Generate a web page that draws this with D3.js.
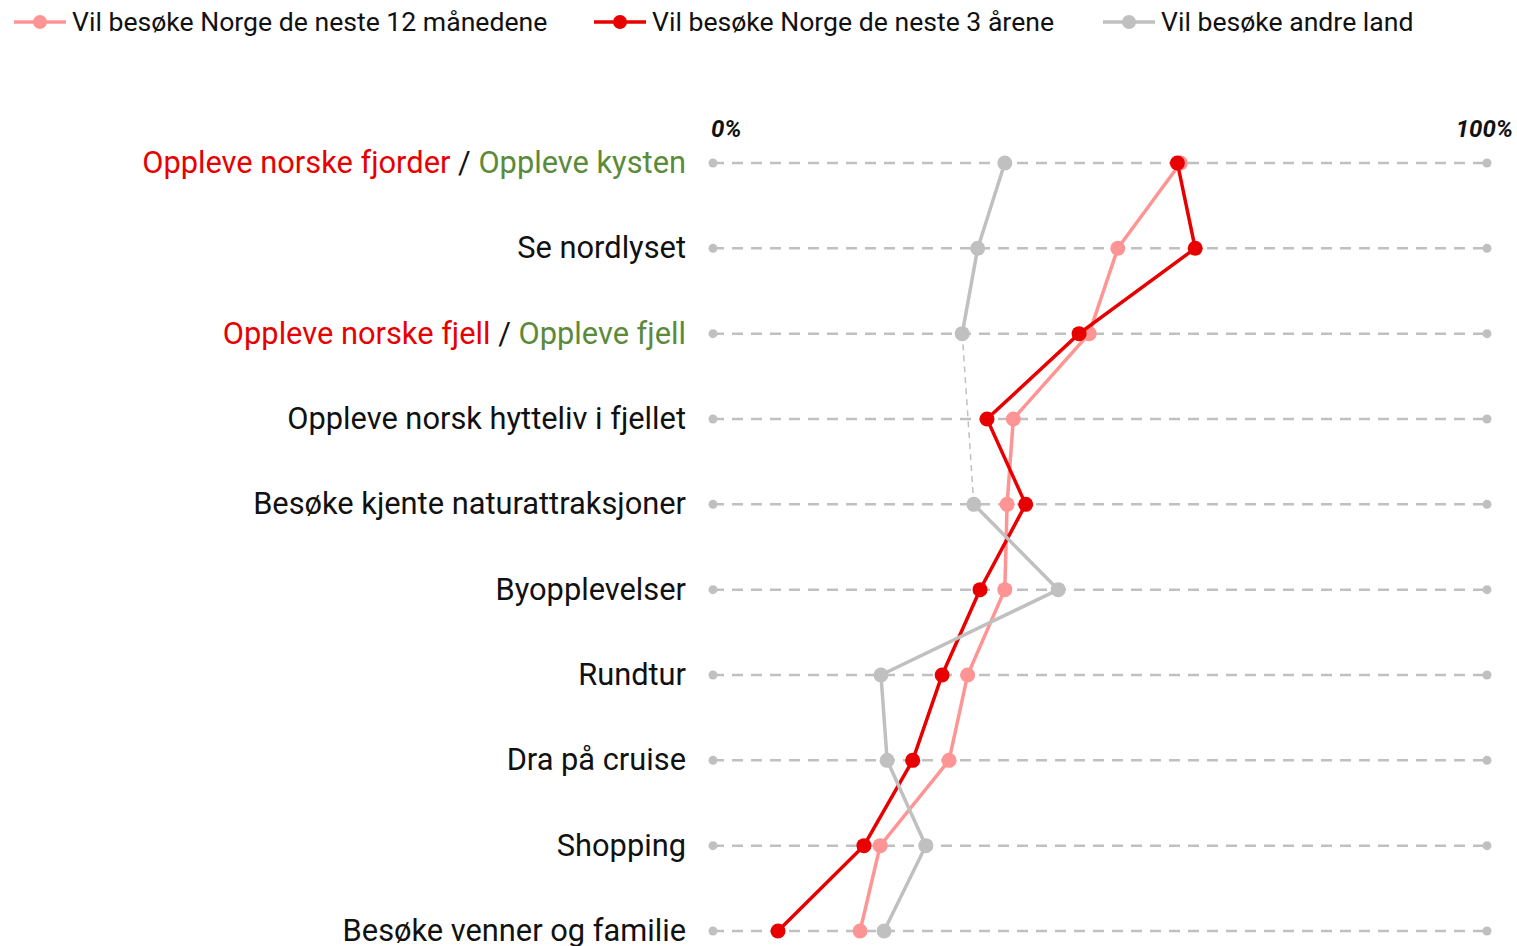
<!DOCTYPE html>
<html><head><meta charset="utf-8">
<script src="https://cdn.jsdelivr.net/npm/d3@7"></script>
<style>body{margin:0;background:#fff;font-family:Roboto,"Noto Sans",sans-serif;}</style>
</head><body><svg id="c" width="1517" height="946"></svg>
<script>
const categories = [
  "Oppleve norske fjorder / Oppleve kysten",
  "Se nordlyset",
  "Oppleve norske fjell / Oppleve fjell",
  "Oppleve norsk hytteliv i fjellet",
  "Besøke kjente naturattraksjoner",
  "Byopplevelser",
  "Rundtur",
  "Dra på cruise",
  "Shopping",
  "Besøke venner og familie"
];
const next12 = [60.4, 52.3, 48.6, 38.8, 38.0, 37.7, 32.9, 30.5, 21.6, 19.0];
const next3y = [60.0, 62.3, 47.3, 35.4, 40.4, 34.5, 29.6, 25.8, 19.5, 8.4];
const otherCountries = [37.7, 34.2, 32.2, null, 33.7, 44.6, 21.7, 22.5, 27.5, 22.1];
const seriesNames = ["Vil besøke Norge de neste 12 månedene", "Vil besøke Norge de neste 3 årene", "Vil besøke andre land"];
const tickLabels = ["0%", "100%"];

const RED = "#e80000", PINK = "#ff9494", GRAY = "#c0c0c0", GREEN = "#5a8a3a";
const svg = d3.select("#c");
const x = d3.scaleLinear().domain([0, 100]).range([713, 1487]);
const y = d3.scalePoint().domain(categories).range([163, 931]);

// gridlines
const g = svg.append("g");
categories.forEach(c => {
  g.append("line").attr("x1", x(0)).attr("x2", x(100)).attr("y1", y(c)).attr("y2", y(c))
    .attr("stroke", GRAY).attr("stroke-width", 2.5).attr("stroke-dasharray", "11,8");
  [0, 100].forEach(v => g.append("circle").attr("cx", x(v)).attr("cy", y(c)).attr("r", 4.5).attr("fill", GRAY));
});

// tick labels
svg.append("text").attr("x", x(0) - 2).attr("y", 137).text(tickLabels[0])
  .attr("font-size", 24).attr("font-style", "italic").attr("font-weight", 700).attr("fill", "#111");
svg.append("text").attr("x", x(100) + 26).attr("y", 137).attr("text-anchor", "end").text(tickLabels[1])
  .attr("font-size", 24).attr("font-style", "italic").attr("font-weight", 700).attr("fill", "#111");

// category labels
const colored = {
  "Oppleve norske fjorder / Oppleve kysten": ["Oppleve norske fjorder", "Oppleve kysten"],
  "Oppleve norske fjell / Oppleve fjell": ["Oppleve norske fjell", "Oppleve fjell"]
};
categories.forEach(c => {
  const t = svg.append("text").attr("x", 686).attr("y", y(c) + 10).attr("text-anchor", "end")
    .attr("font-size", 30.8).attr("fill", "#111");
  if (colored[c]) {
    t.append("tspan").attr("fill", RED).text(colored[c][0]);
    t.append("tspan").attr("fill", "#111").text(" / ");
    t.append("tspan").attr("fill", GREEN).text(colored[c][1]);
  } else t.text(c);
});

function drawSeries(vals, color, r) {
  const pts = vals.map((v, i) => ({v, c: categories[i]}));
  const line = d3.line().defined(d => d.v !== null).x(d => x(d.v)).y(d => y(d.c));
  const defined = pts.filter(d => d.v !== null);
  if (defined.length < pts.length) {
    svg.append("path").attr("d", d3.line().x(d => x(d.v)).y(d => y(d.c))(defined))
      .attr("fill", "none").attr("stroke", color).attr("stroke-width", 1.5).attr("stroke-dasharray", "6,5");
  }
  svg.append("path").attr("d", line(pts)).attr("fill", "none").attr("stroke", color).attr("stroke-width", 3.5);
  svg.selectAll(null).data(defined).enter().append("circle")
    .attr("cx", d => x(d.v)).attr("cy", d => y(d.c)).attr("r", r).attr("fill", color);
}
drawSeries(next12, PINK, 7.5);
drawSeries(next3y, RED, 7.5);
drawSeries(otherCountries, GRAY, 7.5);

// legend
const legend = [
  {name: seriesNames[0], color: PINK, x0: 14},
  {name: seriesNames[1], color: RED, x0: 594},
  {name: seriesNames[2], color: GRAY, x0: 1103}
];
legend.forEach(l => {
  svg.append("line").attr("x1", l.x0).attr("x2", l.x0 + 52).attr("y1", 22).attr("y2", 22)
    .attr("stroke", l.color).attr("stroke-width", 3.5);
  svg.append("circle").attr("cx", l.x0 + 26).attr("cy", 22).attr("r", 7).attr("fill", l.color);
  svg.append("text").attr("x", l.x0 + 58).attr("y", 31).attr("font-size", 26.6).attr("fill", "#111").text(l.name);
});
</script></body></html>
